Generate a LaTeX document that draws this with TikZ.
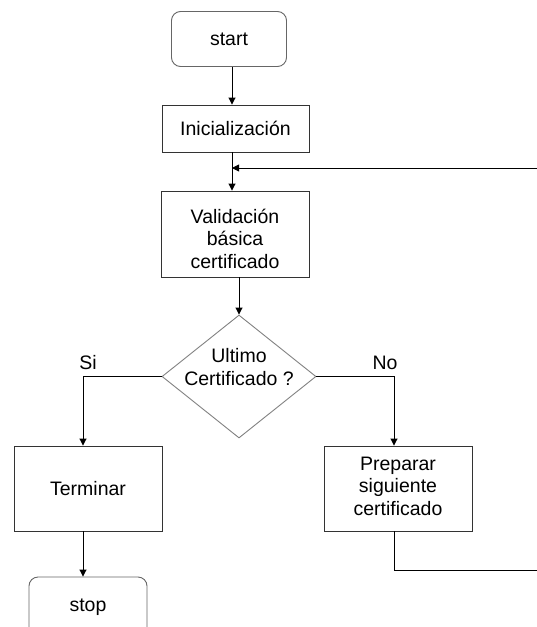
\documentclass[tikz,border=0pt]{standalone}
\usepackage{fontspec}
\setmainfont{Liberation Sans}
\usetikzlibrary{arrows.meta,shapes.geometric}
\begin{document}
\begin{tikzpicture}[x=1pt,y=-1pt,
  every node/.style={font=\fontsize{19.5}{22.5}\selectfont, text=black},
  box/.style={draw=black!80, line width=0.9pt, inner sep=0pt, align=center},
  term/.style={draw=black!60, line width=0.9pt, rounded corners=9pt, inner sep=0pt},
  decbox/.style={draw=black!50, line width=0.9pt, diamond, inner sep=0pt},
  conn/.style={draw=black, line width=0.9pt},
  arr/.style={conn, -{Triangle[length=7pt,width=7pt]}}]
\useasboundingbox (0,0) rectangle (537,627);
\clip (0,0) rectangle (537,627);
% nodes
\node[term, minimum width=115pt, minimum height=55pt] (start) at (229,39) {start};
\node[box, minimum width=147pt, minimum height=47pt] (init) at (235.5,128.5) {Inicialización};
\node[box, minimum width=148pt, minimum height=86pt] (valid) at (235,234) {};
\node[align=center] (validtxt) at (235,238.5) {Validación\\básica\\certificado};
\node[decbox, minimum width=154pt, minimum height=123pt] (dec) at (239,376.5) {};
\node[align=center] (dectxt) at (239,367) {Ultimo\\Certificado ?};
\node[box, minimum width=148pt, minimum height=85pt] (term) at (88,488.5) {Terminar};
\node[box, minimum width=148pt, minimum height=85pt] (prep) at (398,488.5) {};
\node[align=center] (preptxt) at (398,486) {Preparar\\siguiente\\certificado};
\node[term, minimum width=118pt, minimum height=60pt] (stop) at (88,607) {stop};
\node (si) at (88,363) {Si};
\node (no) at (385,363) {No};
% column coordinates
\coordinate (ca) at (232,0);
\coordinate (cb) at (239,0);
\coordinate (cc) at (83,0);
\coordinate (cd) at (394,0);
\coordinate (re1) at (537,168);
\coordinate (re2) at (537,570);
% connectors
\draw[arr] (start.south -| ca) -- (init.north -| ca);
\draw[arr] (init.south -| ca) -- (valid.north -| ca);
\draw[arr] (re1) -- (re1 -| ca);
\draw[arr] (valid.south -| cb) -- (dec.north);
\draw[arr] (dec.west) -- (dec.west -| cc) -- (term.north -| cc);
\draw[arr] (dec.east) -- (dec.east -| cd) -- (prep.north -| cd);
\draw[arr] (term.south -| cc) -- (stop.north -| cc);
\draw[conn] (prep.south -| cd) -- (re2 -| cd) -- (re2);
\end{tikzpicture}
\end{document}
